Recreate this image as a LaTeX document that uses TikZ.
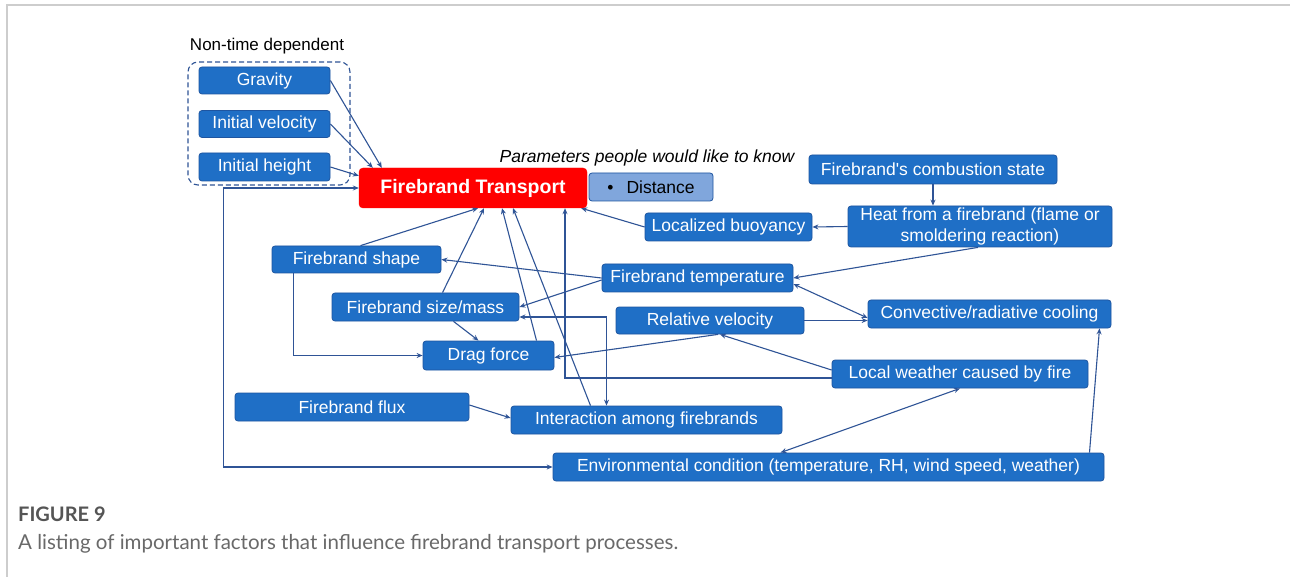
\documentclass[tikz,border=0pt]{standalone}
\usepackage{fontspec}
\setmainfont{Liberation Sans}
\newfontfamily\capfont{Lato}
\usetikzlibrary{arrows.meta,calc}
\definecolor{boxblue}{RGB}{31,111,198}
\definecolor{boxedge}{RGB}{30,85,160}
\definecolor{arrowblue}{RGB}{47,84,150}
\definecolor{distblue}{RGB}{128,166,220}
\definecolor{framegray}{RGB}{205,205,205}
\definecolor{capdark}{RGB}{85,85,85}
\definecolor{capgray}{RGB}{105,105,105}
\begin{document}
\begin{tikzpicture}[x=1pt,y=-1pt,
 factor/.style={draw=boxedge, line width=0.8pt, fill=boxblue, rounded corners=3pt, text=white, inner sep=0pt, font=\fontsize{17.5}{21}\selectfont, align=center},
 link/.style={draw=arrowblue, line width=1.1pt, -{Stealth[length=6pt,width=5pt]}},
 dlink/.style={draw=arrowblue, line width=1.1pt, {Stealth[length=6pt,width=5pt]}-{Stealth[length=6pt,width=5pt]}},
 framestyle/.style={draw=framegray, line width=1.5pt},
]
\useasboundingbox (0,0) rectangle (1290,577);
\fill[white] (0,0) rectangle (1290,577);
\coordinate (frtl) at (7,5);
\coordinate (frtr) at (1290,5);
\coordinate (frbl) at (7,577);
\draw[framestyle] (frtr) -- (frtl) -- (frbl);

% group
\node (ntdlabel) at (267,46) {\fontsize{17}{20}\selectfont Non-time dependent};
\node[draw=arrowblue, dash pattern=on 5pt off 3pt, line width=1.1pt, rounded corners=10pt, minimum width=162pt, minimum height=123pt, inner sep=0pt] (ntd) at (269,123.5) {};
\node[factor, minimum width=131pt, minimum height=27pt] (grav) at (264.5,80.5) {Gravity};
\node[factor, minimum width=131pt, minimum height=27pt] (ivel) at (264.5,124) {Initial velocity};
\node[factor, minimum width=131pt, minimum height=28pt] (ihei) at (264.5,167) {Initial height};

% main
\node[draw=red, fill=red, rounded corners=4pt, text=white, inner sep=0pt, minimum width=228pt, minimum height=40pt, font=\fontsize{19.5}{22}\selectfont\bfseries] (ft) at (473,188) {Firebrand Transport};
\node[draw=boxedge, line width=0.8pt, fill=distblue, rounded corners=3pt, inner sep=0pt, minimum width=124pt, minimum height=28pt, font=\fontsize{17.5}{21}\selectfont] (dist) at (651,187) {\textbullet\hspace{13pt}Distance};
\node[font=\fontsize{17.5}{20}\selectfont\itshape] (param) at (647,158) {Parameters people would like to know};

\node[factor, minimum width=248pt, minimum height=29pt] (comb) at (933,169.5) {Firebrand\textquotesingle s combustion state};
\node[factor, minimum width=264pt, minimum height=41pt, font=\fontsize{17.5}{21}\selectfont] (heat) at (980,226.5) {Heat from a firebrand (flame or\\smoldering reaction)};
\node[factor, minimum width=167pt, minimum height=28pt] (buoy) at (728.5,227) {Localized buoyancy};
\node[factor, minimum width=169pt, minimum height=27pt] (shape) at (356.5,259.5) {Firebrand shape};
\node[factor, minimum width=191pt, minimum height=28pt] (temp) at (697.5,278) {Firebrand temperature};
\node[factor, minimum width=187pt, minimum height=28pt] (size) at (425.5,307) {Firebrand size/mass};
\node[factor, minimum width=188pt, minimum height=27pt] (relv) at (710,320.5) {Relative velocity};
\node[factor, minimum width=243pt, minimum height=28pt] (conv) at (989.5,314) {Convective/radiative cooling};
\node[factor, minimum width=131pt, minimum height=29pt] (drag) at (488.5,355.5) {Drag force};
\node[factor, minimum width=256pt, minimum height=28pt] (lwea) at (960,374) {Local weather caused by fire};
\node[factor, minimum width=234pt, minimum height=28pt] (flux) at (352,407) {Firebrand flux};
\node[factor, minimum width=271pt, minimum height=28pt] (inter) at (646.5,420) {Interaction among firebrands};
\node[factor, minimum width=551pt, minimum height=28pt] (env) at (828.5,467) {Environmental condition (temperature, RH, wind speed, weather)};

% connectors
\draw[link] (grav.east) -- ([xshift=23pt]ft.north west);
\draw[link] (ivel.east) -- ([xshift=14pt]ft.north west);
\draw[link] (ihei.east) -- ([yshift=-8pt]ft.north west);
\draw[dlink] (ft.west) -- ++(-135,0) |- (env.west);
\draw[link] ([xshift=4pt]shape.north) -- ([xshift=5pt]ft.south);
\draw[link] ([xshift=17pt]size.north) -- ([xshift=11pt]ft.south);
\draw[link] ([xshift=48pt]drag.north) -- ([xshift=29pt]ft.south);
\draw[link] ([xshift=-56pt]inter.north) -- ([xshift=40pt]ft.south);
\draw[link] ([yshift=-4pt]lwea.west) -| ([xshift=92pt]ft.south);
\draw[link] (buoy.west) -- ([xshift=-6pt]ft.south east);
\draw[link] (comb.south) -- (comb.south |- heat.north);
\draw[link] (heat.west) -- (buoy.east);
\draw[link] ([xshift=-2pt]heat.south) -- (temp.east);
\draw[link] (temp.west) -- (shape.east);
\draw[link] ([yshift=-2pt]temp.west) -- (size.east);
\draw[dlink] ([yshift=-6pt]temp.east) -- ([yshift=-4pt]conv.west);
\draw[link] (relv.east) -- (relv.east -| conv.west);
\draw[link] ([xshift=8pt]relv.south) -- ([yshift=-2pt]drag.east);
\draw[link] ([yshift=4pt]lwea.west) -- ([xshift=10pt]relv.south);
\draw[link] ([xshift=-63pt]shape.south) |- (drag.west);
\draw[link] ([xshift=28pt]size.south) -- ([xshift=-10pt]drag.north);
\draw[dlink] ([yshift=-10pt]size.east) -| ([xshift=-40pt]inter.north);
\draw[link] ([yshift=2pt]flux.east) -- ([yshift=2pt]inter.west);
\draw[dlink] ([xshift=-48pt]env.north) -- (lwea.south);
\draw[link] ([xshift=261pt]env.north) -- ([xshift=110pt]conv.south);

% caption
\node[anchor=base west, inner sep=0pt, text=capdark, font=\capfont\bfseries\fontsize{20}{24}\selectfont] (figlabel) at (18,521) {FIGURE 9};
\node[anchor=base west, inner sep=0pt, text=capgray, font=\capfont\fontsize{20.5}{24}\selectfont] (figcap) at (18,549) {A listing of important factors that influence firebrand transport processes.};
\end{tikzpicture}
\end{document}
